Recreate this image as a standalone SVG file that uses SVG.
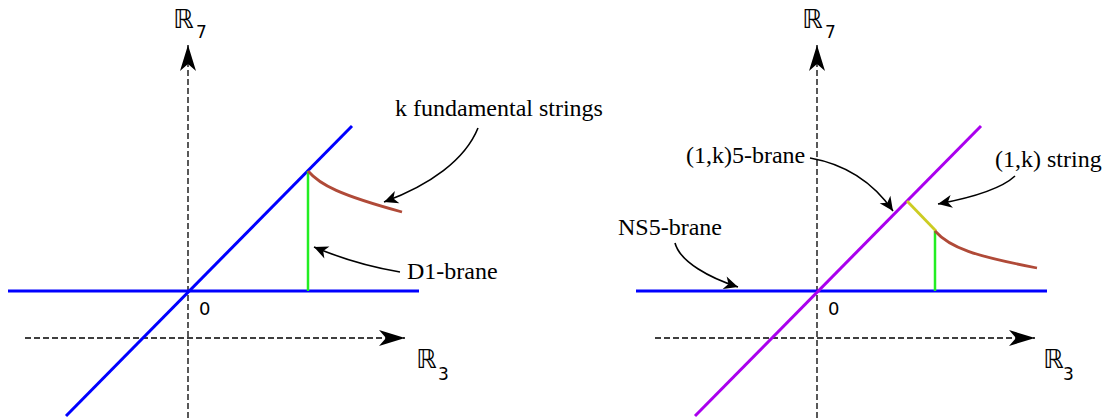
<svg xmlns="http://www.w3.org/2000/svg" width="1103" height="418" viewBox="0 0 1103 418">
<style>
.axis{stroke:#000;stroke-width:1.3;stroke-dasharray:6,3;fill:none}
.lbl{font-family:"Liberation Serif",serif;font-size:24px;fill:#000}
.num{font-family:"DejaVu Sans",sans-serif;font-size:18px;fill:#000}
.rr{font-family:"DejaVu Sans",sans-serif;font-size:26px;fill:#000}
.sub{font-family:"DejaVu Sans",sans-serif;font-size:17px;fill:#000}
.ptr{stroke:#000;stroke-width:1.6;fill:none;marker-end:url(#dart)}
</style>
<defs>
<marker id="dart" markerUnits="userSpaceOnUse" viewBox="-15 -8 17 16" markerWidth="17" markerHeight="16" refX="0" refY="0" orient="auto">
<path d="M0,0 L-14,-6.5 L-10,0 L-14,6.5 Z" fill="#000"/>
</marker>
<marker id="big" markerUnits="userSpaceOnUse" viewBox="-28 -9 30 18" markerWidth="30" markerHeight="18" refX="0" refY="0" orient="auto">
<path d="M0,0 L-26,-8 L-19,0 L-26,8 Z" fill="#000"/>
</marker>
</defs>
<g id="connectors">
<line class="axis" x1="188" y1="418" x2="188" y2="45" marker-end="url(#big)"/>
<line class="axis" x1="25" y1="338" x2="405" y2="338" marker-end="url(#big)"/>
<line class="axis" x1="817" y1="418" x2="817" y2="45" marker-end="url(#big)"/>
<line class="axis" x1="655" y1="338" x2="1035" y2="338" marker-end="url(#big)"/>
<path class="ptr" d="M478,128 C465,160 430,185 384,202"/>
<path class="ptr" d="M400,272 C370,267 340,258 314,247"/>
<path class="ptr" d="M810,158 C850,165 875,185 893,211"/>
<path class="ptr" d="M675,243 C680,262 710,278 738,287"/>
<path class="ptr" d="M1015,176 C1000,190 970,198 938,204"/>
</g>
<g id="left-ns5">
<line x1="8" y1="291" x2="419" y2="291" stroke="#0000ff" stroke-width="3"/>
</g>
<g id="left-diag">
<line x1="66" y1="416" x2="352" y2="126" stroke="#0000ff" stroke-width="3"/>
</g>
<g id="left-d1">
<line x1="308" y1="291" x2="308" y2="171" stroke="#22ee22" stroke-width="2.5"/>
</g>
<g id="left-strings">
<path d="M308,171 C320,185 340,195 402,212" stroke="#b04a38" stroke-width="2.8" fill="none"/>
</g>
<g id="right-ns5">
<line x1="636" y1="291" x2="1047" y2="291" stroke="#0000ff" stroke-width="3"/>
</g>
<g id="right-diag">
<line x1="695" y1="416" x2="981" y2="126" stroke="#aa00ee" stroke-width="3"/>
</g>
<g id="right-1k">
<line x1="907" y1="201" x2="936" y2="231" stroke="#cccc22" stroke-width="2.8"/>
</g>
<g id="right-d1">
<line x1="935" y1="291" x2="935" y2="231" stroke="#22ee22" stroke-width="2.5"/>
</g>
<g id="right-strings">
<path d="M935,231 C950,248 975,256 1037,268" stroke="#b04a38" stroke-width="2.8" fill="none"/>
</g>
<g id="labels">
<text class="rr" x="173" y="28">ℝ</text><text class="sub" x="196" y="38">7</text>
<text class="rr" x="416" y="368">ℝ</text><text class="sub" x="438" y="380">3</text>
<text class="rr" x="802" y="28">ℝ</text><text class="sub" x="825" y="38">7</text>
<text class="rr" x="1043" y="368">ℝ</text><text class="sub" x="1063" y="380">3</text>
<text class="num" x="199" y="315">0</text>
<text class="num" x="828" y="315">0</text>
<text class="lbl" x="395" y="116">k fundamental strings</text>
<text class="lbl" x="407" y="279">D1-brane</text>
<text class="lbl" x="686" y="163">(1,k)5-brane</text>
<text class="lbl" x="995" y="167">(1,k) string</text>
<text class="lbl" x="618" y="235">NS5-brane</text>
</g>
</svg>
